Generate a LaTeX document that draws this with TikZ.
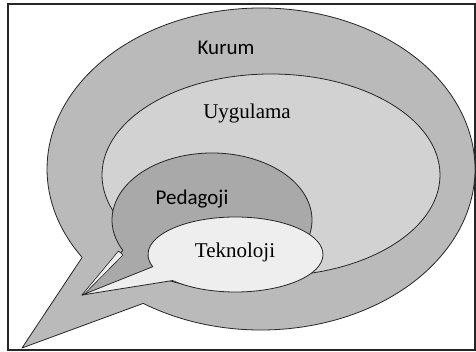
\documentclass[tikz,border=0pt]{standalone}
\usepackage{fontspec}
\setmainfont{Liberation Serif}
\newfontfamily\calib{Carlito}
\definecolor{kurumc}{HTML}{BABABA}
\definecolor{uygc}{HTML}{D2D2D2}
\definecolor{pedc}{HTML}{A9A9A9}
\definecolor{tekc}{HTML}{EEEEEE}
\tikzset{
  bubble/.style={draw=black!85, line width=0.8pt, line join=round},
  lbl/.style={inner sep=0pt, font=\fontsize{21}{24}\selectfont},
}
\begin{document}
\begin{tikzpicture}[x=1pt,y=1pt]
\useasboundingbox (0,0) rectangle (476,352);
\fill[white] (0,0) rectangle (476,352);
\draw[line width=1.5pt, black!85] (8,2) rectangle (475,348);
% Kurum
\draw[bubble, fill=kurumc] (261,183) ++({214*cos(236.6)},{161*sin(236.6)})
  arc[start angle=236.6, end angle=573.3, x radius=214, y radius=161] -- (22,4) -- cycle;
% Uygulama
\draw[bubble, fill=uygc] (271,177) ellipse[x radius=169, y radius=101];
% Pedagoji
\draw[bubble, fill=pedc] (212,132) ++({100*cos(240)},{67*sin(240)})
  arc[start angle=240, end angle=567, x radius=100, y radius=67] -- (82,57) -- cycle;
\draw[bubble, fill=tekc, line width=0.6pt] (118.5,101) -- (123,97) -- (84,57.5) -- (82,57) -- cycle;
% Teknoloji
\draw[bubble, fill=tekc] (235.5,97.5) ++({87.5*cos(224)},{37.5*sin(224)})
  arc[start angle=224, end angle=559, x radius=87.5, y radius=37.5] -- (82,57) -- cycle;
\node[lbl, font=\calib\fontsize{21}{24}\selectfont] (kurum) at (226,304) {Kurum};
\node[lbl] (uyg) at (247,239) {Uygulama};
\node[lbl, font=\calib\fontsize{21}{24}\selectfont] (ped) at (192,153) {Pedagoji};
\node[lbl] (tek) at (235,100) {Teknoloji};
\end{tikzpicture}
\end{document}
